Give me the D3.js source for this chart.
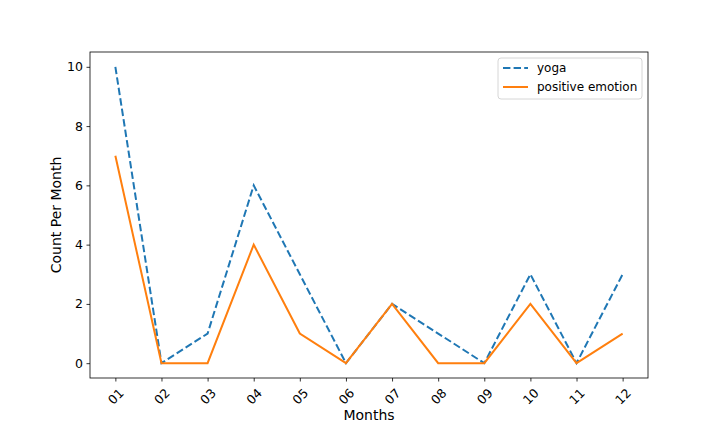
<!DOCTYPE html>
<html>
<head>
<meta charset="utf-8">
<script src="https://cdn.jsdelivr.net/npm/d3@7"></script>
<style>
  body { margin: 0; background: #fff; }
  svg text { font-family: "DejaVu Sans", sans-serif; fill: #000; }
</style>
</head>
<body>
<svg id="chart" width="720" height="432"></svg>
<script>
const months = ["01", "02", "03", "04", "05", "06", "07", "08", "09", "10", "11", "12"];
const yoga = [10, 0, 1, 6, 3, 0, 2, 1, 0, 3, 0, 3];
const positive = [7, 0, 0, 4, 1, 0, 2, 0, 0, 2, 0, 1];
const yTicks = [0, 2, 4, 6, 8, 10];

const svg = d3.select("#chart");
const mLeft = 90, mRight = 648, mTop = 52, mBottom = 378;

// индексная шкала с полями как в matplotlib
const x = d3.scaleLinear().domain([-0.55, 11.55]).range([mLeft, mRight]);
const y = d3.scaleLinear().domain([-0.5, 10.5]).range([mBottom, mTop]);

// Оси
const xAxis = svg.append("g")
  .attr("transform", "translate(0," + mBottom + ")")
  .call(d3.axisBottom(x).tickValues(d3.range(months.length)).tickFormat(i => months[i]).tickSize(3.5).tickSizeOuter(0));
xAxis.selectAll("text")
  .attr("font-size", "12.5px")
  .attr("text-anchor", "middle")
  .attr("dy", "0.35em")
  .attr("y", 0)
  .attr("transform", "translate(0,18.5) rotate(-45)");

const yAxis = svg.append("g")
  .attr("transform", "translate(" + mLeft + ",0)")
  .call(d3.axisLeft(y).tickValues(yTicks).tickSize(3.5).tickSizeOuter(0));
yAxis.selectAll("text").attr("font-size", "12.5px").attr("x", -7);

svg.selectAll(".domain").remove();
svg.selectAll(".tick line").attr("stroke", "#000").attr("stroke-width", 0.8);

// рамка
svg.append("rect")
  .attr("x", mLeft).attr("y", mTop)
  .attr("width", mRight - mLeft).attr("height", mBottom - mTop)
  .attr("fill", "none").attr("stroke", "#000").attr("stroke-width", 0.8);

// Подписи осей
svg.append("text")
  .attr("x", (mLeft + mRight) / 2).attr("y", 420)
  .attr("text-anchor", "middle").attr("font-size", "14px")
  .text("Months");

svg.append("text")
  .attr("transform", "translate(61," + (mTop + mBottom) / 2 + ") rotate(-90)")
  .attr("text-anchor", "middle").attr("font-size", "14px")
  .text("Count Per Month");

// Линии
const line = d3.line().x((d, i) => x(i)).y(d => y(d));

svg.append("path").datum(yoga)
  .attr("fill", "none").attr("stroke", "#1f77b4").attr("stroke-width", 2)
  .attr("stroke-dasharray", "7.4,3.2")
  .attr("d", line);

svg.append("path").datum(positive)
  .attr("fill", "none").attr("stroke", "#ff7f0e").attr("stroke-width", 2)
  .attr("d", line);

// Легенда
const lg = svg.append("g").attr("transform", "translate(498,58)");
lg.append("rect")
  .attr("width", 144).attr("height", 41).attr("rx", 3)
  .attr("fill", "#fff").attr("fill-opacity", 0.8)
  .attr("stroke", "#ccc").attr("stroke-width", 0.8);

const items = [
  { name: "yoga", color: "#1f77b4", dash: "7.4,3.2" },
  { name: "positive emotion", color: "#ff7f0e", dash: null }
];
items.forEach((it, i) => {
  const yy = 10 + i * 19;
  lg.append("line")
    .attr("x1", 5).attr("x2", 30).attr("y1", yy).attr("y2", yy)
    .attr("stroke", it.color).attr("stroke-width", 2)
    .attr("stroke-dasharray", it.dash);
  lg.append("text")
    .attr("x", 39).attr("y", yy + 4.3)
    .attr("font-size", "12px")
    .text(it.name);
});
</script>
</body>
</html>
